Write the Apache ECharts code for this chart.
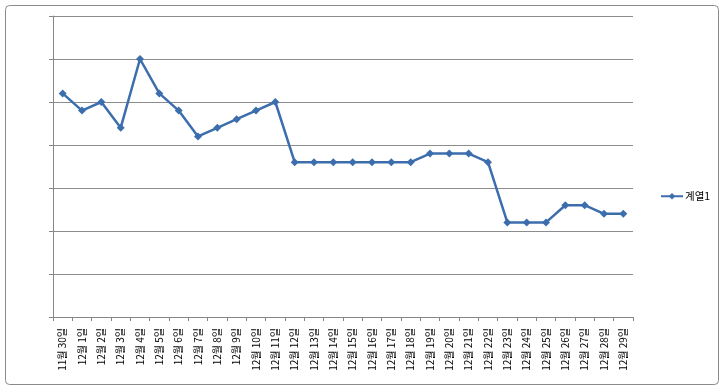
<!DOCTYPE html>
<html>
<head>
<meta charset="utf-8">
<script src="https://cdn.jsdelivr.net/npm/echarts@6/dist/echarts.min.js"></script>
<style>
html,body{margin:0;padding:0;background:#fff;}
#c{width:720px;height:386px;}
</style>
</head>
<body>
<div id="c"></div>
<script>
const categories = ["11월 30일","12월 1일","12월 2일","12월 3일","12월 4일","12월 5일","12월 6일","12월 7일","12월 8일","12월 9일","12월 10일","12월 11일","12월 12일","12월 13일","12월 14일","12월 15일","12월 16일","12월 17일","12월 18일","12월 19일","12월 20일","12월 21일","12월 22일","12월 23일","12월 24일","12월 25일","12월 26일","12월 27일","12월 28일","12월 29일"];
const seriesName = "계열1";
const values = [5.2,4.8,5.0,4.4,6.0,5.2,4.8,4.2,4.4,4.6,4.8,5.0,3.6,3.6,3.6,3.6,3.6,3.6,3.6,3.8,3.8,3.8,3.6,2.2,2.2,2.2,2.6,2.6,2.4,2.4];
const yMin = 0, yMax = 7, yStep = 1;

const chart = echarts.init(document.getElementById('c'), null, {renderer:'canvas'});
chart.setOption({
  animation:false,
  backgroundColor:'#fff',
  graphic:[{type:'rect',left:3,top:3,shape:{width:713,height:379,r:4},style:{fill:'none',stroke:'#8a8a8a',lineWidth:1},silent:true}],
  grid:{left:53,right:87,top:16,bottom:69,containLabel:false},
  legend:{
    data:[seriesName],
    left:655, top:186,
    itemWidth:22, itemHeight:8, itemGap:2,
    textStyle:{fontFamily:'Noto Sans CJK KR',fontSize:10.5,color:'#000',padding:[0,0,0,-3]}
  },
  xAxis:{
    type:'category',
    data:categories,
    boundaryGap:true,
    axisLine:{lineStyle:{color:'#868686',width:1}},
    axisTick:{show:true,length:4,lineStyle:{color:'#868686'}},
    axisLabel:{rotate:90,fontSize:10,fontFamily:'Noto Sans CJK KR',color:'#000',margin:11,interval:0}
  },
  yAxis:{
    type:'value',
    min:yMin,max:yMax,interval:yStep,
    axisLine:{show:true,lineStyle:{color:'#868686',width:1}},
    axisTick:{show:true,length:4,lineStyle:{color:'#868686'}},
    axisLabel:{show:false},
    splitLine:{show:true,lineStyle:{color:'#8c8c8c',width:1}}
  },
  series:[{
    name:seriesName,
    type:'line',
    data:values,
    symbol:'diamond',
    symbolSize:8,
    lineStyle:{color:'#3C6EAE',width:2.5},
    itemStyle:{color:'#3C6EAE'}
  }]
});
</script>
</body>
</html>
